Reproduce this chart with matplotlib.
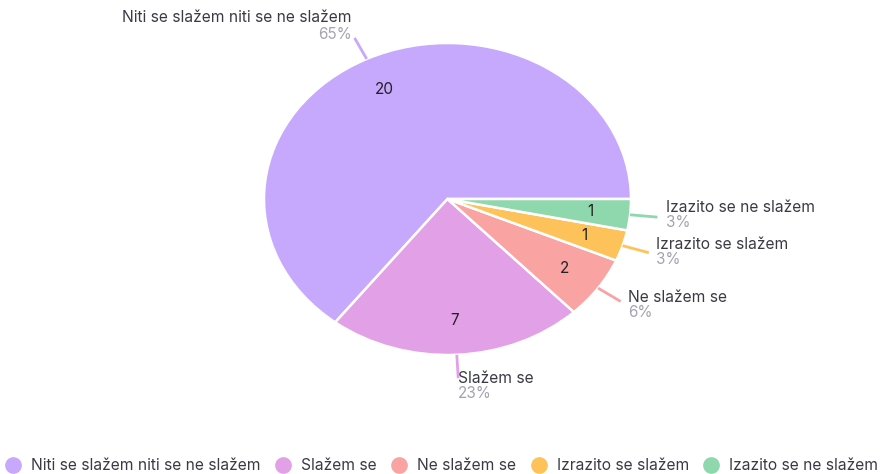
import numpy as np
import matplotlib.pyplot as plt
from matplotlib.lines import Line2D

# === Data ===
labels = ['Niti se slažem niti se ne slažem', 'Slažem se', 'Ne slažem se',
          'Izrazito se slažem', 'Izazito se ne slažem']
counts = [20, 7, 2, 1, 1]
percents = ['65%', '23%', '6%', '3%', '3%']
colors = ['#c6a8fd', '#e2a0e6', '#f9a3a3', '#fec25b', '#8fd7ac']

plt.rcParams['font.family'] = ['Inter', 'DejaVu Sans']

W, H = 888, 474
fig = plt.figure(figsize=(W / 100, H / 100), dpi=100)
ax = fig.add_axes([0, 0, 1, 1])

wedges, _ = ax.pie(counts, colors=colors, startangle=0, counterclock=True,
                   wedgeprops=dict(edgecolor='white', linewidth=1.8))

# the original pie is stretched horizontally
cx, cy, rx, ry = 447.5, 199, 183.5, 156
ax.set_aspect('auto')
ax.set_xlim(-cx / rx, (W - cx) / rx)
ax.set_ylim(-(H - cy) / ry, cy / ry)
ax.axis('off')

# label offsets in pixels (dx, dy for name, dy for percent, ha)
offsets = [(-3, 20, 3, 'right'), (0, 0, -15, 'left'), (7, 4, -11, 'left'),
           (7, 8, -7, 'left'), (9, 10, -5, 'left')]

for w, n, lab, pct, col, off in zip(wedges, counts, labels, percents, colors, offsets):
    mid = np.deg2rad((w.theta1 + w.theta2) / 2)
    c, s = np.cos(mid), np.sin(mid)
    ax.text(0.78 * c, 0.78 * s, str(n), ha='center', va='center',
            fontsize=11, color='#222222')
    ax.plot([c, 1.15 * c], [s, 1.15 * s], color=col, lw=2, solid_capstyle='butt')
    dx, dyn, dyp, ha = off
    ax.annotate(lab, (1.15 * c, 1.15 * s), xytext=(dx * 0.72, dyn * 0.72),
                textcoords='offset points', ha=ha, va='center',
                fontsize=11.2, color='#3a3a45')
    ax.annotate(pct, (1.15 * c, 1.15 * s), xytext=(dx * 0.72, dyp * 0.72),
                textcoords='offset points', ha=ha, va='center',
                fontsize=11, color='#a3a3b3')

handles = [Line2D([], [], marker='o', linestyle='', markersize=11,
                  markerfacecolor=c, markeredgecolor=c) for c in colors]
fig.legend(handles, labels, loc='center', bbox_to_anchor=(0.498, 1 - 466 / H),
           ncol=5, frameon=False, fontsize=11.2, handlelength=0.9,
           handletextpad=0.7, columnspacing=1.0, labelcolor='#3a3a45')

fig.savefig('out.png', dpi=100)
